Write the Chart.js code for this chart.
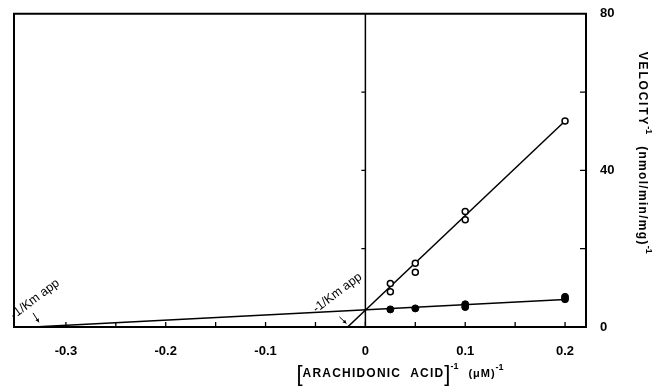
<!DOCTYPE html>
<html>
<head>
<meta charset="utf-8">
<script src="https://cdn.jsdelivr.net/npm/chart.js@4"></script>
<style>
  html, body { margin: 0; padding: 0; background: #fff; }
</style>
</head>
<body>
<canvas id="chart" width="662" height="390"></canvas>
<script>
// open circles (upper line)
const openX = [0.025, 0.025, 0.05, 0.05, 0.1, 0.1, 0.2];
const openY = [11.1, 9.0, 16.3, 14.0, 29.5, 27.4, 52.6];
// filled circles (lower line)
const filledX = [0.025, 0.05, 0.1, 0.1, 0.2, 0.2];
const filledY = [4.5, 4.75, 5.8, 5.1, 7.7, 7.1];
// fitted lines, end points
const openLineX = [-0.0178, 0.2];
const openLineY = [0, 52.6];
const filledLineX = [-0.333, 0.2];
const filledLineY = [0, 7.0];

const xTickValues = [-0.3, -0.25, -0.2, -0.15, -0.1, -0.05, 0, 0.05, 0.1, 0.15, 0.2];
const xTickLabels = ['-0.3', '', '-0.2', '', '-0.1', '', '0', '', '0.1', '', '0.2'];
const yTickValues = [0, 20, 40, 60, 80];
const yTickLabels = ['0', '', '40', '', '80'];

const FONT = '"Liberation Sans", Arial, sans-serif';

const toPoints = (xs, ys) => xs.map((x, i) => ({ x, y: ys[i] }));

// frame, zero axis, inward ticks, titles and the -1/Km app notes
const decorations = {
  id: 'decorations',
  afterDraw(chart) {
    const { ctx, chartArea: area, scales: { x, y } } = chart;
    ctx.save();
    ctx.strokeStyle = '#000';
    ctx.fillStyle = '#000';

    // top and left edges of the box
    ctx.lineWidth = 2;
    ctx.beginPath();
    ctx.moveTo(area.left, area.bottom);
    ctx.lineTo(area.left, area.top);
    ctx.lineTo(area.right + 1, area.top);
    ctx.stroke();

    // vertical axis at x = 0
    const x0 = x.getPixelForValue(0);
    ctx.lineWidth = 1.5;
    ctx.beginPath();
    ctx.moveTo(x0, area.top);
    ctx.lineTo(x0, area.bottom);
    ctx.stroke();

    // inward ticks
    ctx.lineWidth = 1.3;
    ctx.beginPath();
    xTickValues.forEach(v => {
      const px = x.getPixelForValue(v);
      ctx.moveTo(px, area.bottom);
      ctx.lineTo(px, area.bottom - 5);
    });
    [20, 40, 60].forEach(v => {
      const py = y.getPixelForValue(v);
      ctx.moveTo(area.right, py);
      ctx.lineTo(area.right - 6, py);
      ctx.moveTo(x0, py);
      ctx.lineTo(x0 - 4, py);
    });
    ctx.stroke();

    // notes
    const note = (vx, vy) => {
      ctx.save();
      ctx.translate(x.getPixelForValue(vx), y.getPixelForValue(vy));
      ctx.rotate(-37 * Math.PI / 180);
      ctx.font = '12.5px ' + FONT;
      ctx.textBaseline = 'alphabetic';
      ctx.textAlign = 'left';
      ctx.fillText('-1/Km app', 0, 0);
      ctx.restore();
    };
    note(-0.352, 2.0);
    note(-0.049, 3.6);

    const arrow = (tx, ty, hx, hy) => {
      const ax = x.getPixelForValue(tx), ay = y.getPixelForValue(ty);
      const bx = x.getPixelForValue(hx), by = y.getPixelForValue(hy);
      const ang = Math.atan2(by - ay, bx - ax);
      ctx.lineWidth = 1;
      ctx.beginPath();
      ctx.moveTo(ax, ay);
      ctx.lineTo(bx, by);
      ctx.stroke();
      ctx.beginPath();
      ctx.moveTo(bx, by);
      ctx.lineTo(bx - 4 * Math.cos(ang - 0.5), by - 4 * Math.sin(ang - 0.5));
      ctx.lineTo(bx - 4 * Math.cos(ang + 0.5), by - 4 * Math.sin(ang + 0.5));
      ctx.closePath();
      ctx.fill();
    };
    arrow(-0.333, 3.6, -0.327, 1.2);
    arrow(-0.026, 2.6, -0.019, 0.9);

    // runs of text with superscripts, drawn left to right from (0,0)
    const drawRun = (parts) => {
      let cx = 0;
      parts.forEach(p => {
        ctx.font = p.font;
        ctx.letterSpacing = p.spacing || '0px';
        ctx.fillText(p.text, cx, p.dy || 0);
        cx += ctx.measureText(p.text).width + (p.gap || 0);
      });
      ctx.letterSpacing = '0px';
    };

    // x title
    ctx.save();
    ctx.translate(x.getPixelForValue(-0.069), area.bottom + 47);
    ctx.textBaseline = 'middle';
    ctx.textAlign = 'left';
    drawRun([
      { text: '[', font: '22px ' + FONT, dy: 1 },
      { text: 'ARACHIDONIC', font: 'bold 12px ' + FONT, spacing: '1.2px', gap: 9 },
      { text: 'ACID', font: 'bold 12px ' + FONT, spacing: '1.2px' },
      { text: ']', font: '22px ' + FONT, dy: 1 },
      { text: '-1', font: 'bold 9px ' + FONT, dy: -7, gap: 10 },
      { text: '(\u03bcM)', font: 'bold 11px ' + FONT, spacing: '1px' },
      { text: '-1', font: 'bold 9px ' + FONT, dy: -6 }
    ]);
    ctx.restore();

    // y title, reading downward on the right
    ctx.save();
    ctx.translate(area.right + 56, y.getPixelForValue(70.3));
    ctx.rotate(Math.PI / 2);
    ctx.textBaseline = 'middle';
    ctx.textAlign = 'left';
    drawRun([
      { text: 'VELOCITY', font: 'bold 12px ' + FONT, spacing: '1.8px' },
      { text: '-1', font: 'bold 9px ' + FONT, dy: -6, gap: 12 },
      { text: '(nmol/min/mg)', font: 'bold 12px ' + FONT, spacing: '1.3px' },
      { text: '-1', font: 'bold 9px ' + FONT, dy: -6 }
    ]);
    ctx.restore();

    ctx.restore();
  }
};

new Chart(document.getElementById('chart'), {
  type: 'scatter',
  data: {
    datasets: [
      {
        data: toPoints(openX, openY),
        pointStyle: 'circle',
        pointRadius: 3,
        pointBorderWidth: 1.5,
        pointBackgroundColor: '#fff',
        pointBorderColor: '#000',
        showLine: false
      },
      {
        data: toPoints(filledX, filledY),
        pointStyle: 'circle',
        pointRadius: 3.5,
        pointBorderWidth: 1,
        pointBackgroundColor: '#000',
        pointBorderColor: '#000',
        showLine: false
      },
      {
        data: toPoints(openLineX, openLineY),
        showLine: true,
        borderColor: '#000',
        borderWidth: 1.5,
        pointRadius: 0
      },
      {
        data: toPoints(filledLineX, filledLineY),
        showLine: true,
        borderColor: '#000',
        borderWidth: 1.5,
        pointRadius: 0
      }
    ]
  },
  options: {
    responsive: false,
    animation: false,
    devicePixelRatio: 1,
    layout: { padding: { left: 14, top: 12, right: 0, bottom: 0 } },
    plugins: {
      legend: { display: false },
      tooltip: { enabled: false }
    },
    scales: {
      x: {
        type: 'linear',
        position: 'bottom',
        min: -0.352,
        max: 0.221,
        afterBuildTicks: scale => {
          scale.ticks = xTickValues.map(v => ({ value: v }));
        },
        afterFit: scale => { scale.height = 63; },
        grid: { display: false },
        border: { display: true, color: '#000', width: 2 },
        ticks: {
          color: '#000',
          padding: 9,
          maxRotation: 0,
          autoSkip: false,
          font: { family: FONT, size: 13, weight: 'bold' },
          callback: (value, index) => xTickLabels[index]
        }
      },
      y: {
        type: 'linear',
        position: 'right',
        min: 0,
        max: 80,
        afterBuildTicks: scale => {
          scale.ticks = yTickValues.map(v => ({ value: v }));
        },
        afterFit: scale => { scale.width = 76; },
        grid: { display: false },
        border: { display: true, color: '#000', width: 2 },
        ticks: {
          color: '#000',
          padding: 6,
          autoSkip: false,
          font: { family: FONT, size: 13, weight: 'bold' },
          callback: (value, index) => yTickLabels[index]
        }
      }
    }
  },
  plugins: [decorations]
});
</script>
</body>
</html>
